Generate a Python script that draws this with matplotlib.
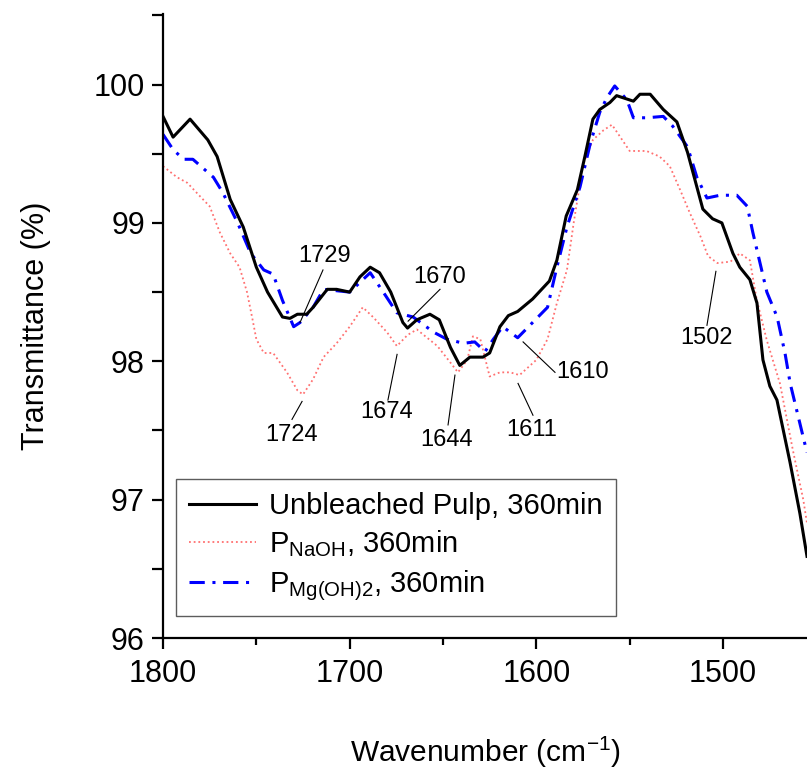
import matplotlib
matplotlib.use("Agg")
import matplotlib.pyplot as plt
from matplotlib.ticker import MultipleLocator

plt.rcParams['font.family'] = ['Liberation Sans', 'DejaVu Sans']
plt.rcParams['mathtext.default'] = 'regular'

# ---- data ----
wn_unbleached = [1800, 1794.6, 1785.5, 1776, 1771, 1764, 1757, 1750, 1744, 1736, 1732, 1728, 1723,
                 1719.6, 1712, 1707, 1700, 1694.5, 1689, 1684, 1678, 1671.5, 1669, 1664, 1657, 1652,
                 1646, 1641, 1635.6, 1628.6, 1625, 1619.5, 1615, 1610, 1602, 1593, 1589, 1584, 1578,
                 1574, 1569.7, 1566, 1560.6, 1557, 1548, 1544.5, 1539, 1532, 1524.7, 1519, 1514,
                 1510.8, 1505.6, 1500.6, 1494.7, 1491, 1485.6, 1481.8, 1478.6, 1474.9, 1471.1,
                 1464.1, 1458.8, 1455]
t_unbleached = [99.77, 99.62, 99.75, 99.60, 99.48, 99.17, 98.97, 98.68, 98.50, 98.32, 98.31, 98.34, 98.34,
                98.39, 98.52, 98.52, 98.50, 98.61, 98.68, 98.64, 98.50, 98.28, 98.24, 98.30, 98.34, 98.30,
                98.10, 97.97, 98.03, 98.03, 98.06, 98.25, 98.33, 98.36, 98.45, 98.58, 98.73, 99.05, 99.24,
                99.48, 99.75, 99.82, 99.87, 99.92, 99.88, 99.93, 99.93, 99.82, 99.73, 99.51, 99.26,
                99.10, 99.03, 99.00, 98.78, 98.68, 98.59, 98.42, 98.01, 97.82, 97.72,
                97.27, 96.90, 96.59]

wn_naoh = [1800, 1792.5, 1787, 1780, 1775, 1769.5, 1764, 1759, 1755, 1752, 1750, 1746, 1741, 1733.6,
           1728, 1725, 1719.6, 1714, 1707, 1700, 1693, 1687.5, 1680, 1674.7, 1669, 1664, 1653, 1646,
           1642, 1637, 1634, 1630, 1625, 1619.5, 1614, 1609, 1600, 1594, 1589, 1583.6, 1580, 1575,
           1569.7, 1564, 1559.5, 1555, 1550, 1541, 1534, 1528.5, 1523, 1517.7, 1512, 1508, 1503,
           1496, 1491, 1485.6, 1482, 1476.5, 1469.5, 1462.6, 1457, 1455]
t_naoh = [99.41, 99.33, 99.29, 99.19, 99.12, 98.93, 98.78, 98.68, 98.50, 98.30, 98.16, 98.06, 98.06, 97.92,
          97.79, 97.76, 97.87, 98.03, 98.13, 98.25, 98.39, 98.32, 98.21, 98.11, 98.19, 98.23, 98.11, 97.99,
          97.92, 98.01, 98.18, 98.16, 97.89, 97.92, 97.92, 97.90, 98.01, 98.16, 98.42, 98.66, 99.00, 99.42,
          99.60, 99.67, 99.71, 99.62, 99.52, 99.52, 99.48, 99.41, 99.24, 99.07, 98.90, 98.76, 98.71,
          98.72, 98.78, 98.73, 98.45, 98.15, 97.84, 97.36, 97.00, 96.83]

wn_mgoh2 = [1800, 1794.6, 1789, 1784, 1773, 1768, 1760, 1753, 1746, 1741, 1736, 1730, 1726.6, 1719.6,
            1714, 1700, 1694.5, 1689, 1682, 1674.7, 1666, 1655, 1648, 1639, 1633, 1627.5, 1623, 1618,
            1610, 1602, 1594, 1589, 1583.6, 1576.6, 1571, 1566, 1562, 1558, 1551.5, 1548, 1540.8,
            1532, 1527, 1519, 1514, 1508.6, 1501.6, 1492.6, 1487, 1484, 1476.5, 1471, 1466.8, 1464,
            1457, 1455]
t_mgoh2 = [99.64, 99.53, 99.46, 99.46, 99.33, 99.22, 99.00, 98.78, 98.66, 98.63, 98.44, 98.25, 98.28, 98.39,
           98.52, 98.50, 98.57, 98.64, 98.50, 98.35, 98.32, 98.21, 98.16, 98.13, 98.14, 98.07, 98.16, 98.25,
           98.17, 98.28, 98.39, 98.68, 98.97, 99.26, 99.58, 99.80, 99.91, 99.99, 99.89, 99.76, 99.76,
           99.77, 99.70, 99.55, 99.33, 99.18, 99.20, 99.20, 99.12, 98.93, 98.50, 98.32, 98.06, 97.84,
           97.45, 97.34]

series_labels = ['Unbleached Pulp, 360min',
                 'P$_{NaOH}$, 360min',
                 'P$_{Mg(OH)2}$, 360min']

# peak annotations: label, text position (wn, T), connector start, connector end
ann_labels = ['1729', '1670', '1724', '1674', '1644', '1611', '1610', '1502']
ann_text_xy = [(1713.2, 98.76), (1651.6, 98.61), (1730.9, 97.47), (1680.0, 97.63),
               (1647.9, 97.43), (1602.3, 97.50), (1575.5, 97.92), (1508.6, 98.17)]
ann_line_from = [(1714.3, 98.66), (1651.6, 98.52), (1730.9, 97.58), (1679.5, 97.72),
                 (1647.3, 97.54), (1601.8, 97.61), (1590.0, 97.92), (1508.6, 98.26)]
ann_line_to = [(1726.6, 98.28), (1668.7, 98.29), (1725.5, 97.71), (1674.6, 98.05),
               (1643.6, 97.90), (1609.8, 97.84), (1607.1, 98.14), (1503.8, 98.65)]

x_ticks = [1800, 1700, 1600, 1500]
y_ticks = [96, 97, 98, 99, 100]

# ---- figure ----
W, H = 807, 774
fig = plt.figure(figsize=(W / 100, H / 100), dpi=100)
ax = fig.add_axes([163 / W, (H - 638) / H, (W - 163) / W, (638 - 14) / H])

ax.plot(wn_unbleached, t_unbleached, color='black', lw=2.2, label=series_labels[0], zorder=3)
ax.plot(wn_naoh, t_naoh, color='#ff7070', lw=1.3, linestyle=(0, (1, 1.6)), label=series_labels[1], zorder=2)
ax.plot(wn_mgoh2, t_mgoh2, color='#0000ff', lw=2.2, linestyle=(0, (5, 2.5, 1, 2.5)),
        label=series_labels[2], zorder=2)

for lab, txy, p0, p1 in zip(ann_labels, ann_text_xy, ann_line_from, ann_line_to):
    ax.plot([p0[0], p1[0]], [p0[1], p1[1]], color='black', lw=0.8, zorder=4)
    ax.text(txy[0], txy[1], lab, ha='center', va='center', fontsize=17, zorder=5)

ax.set_xlim(1800, 1455)
ax.set_ylim(96, 100.51)
ax.set_xticks(x_ticks)
ax.set_yticks(y_ticks)
ax.xaxis.set_minor_locator(MultipleLocator(50))
ax.yaxis.set_minor_locator(MultipleLocator(0.5))

for s in ['top', 'right']:
    ax.spines[s].set_visible(False)
for s in ['left', 'bottom']:
    ax.spines[s].set_linewidth(1.6)

ax.tick_params(axis='both', which='major', direction='out', length=8, width=1.6, labelsize=22)
ax.tick_params(axis='x', which='minor', direction='out', length=5, width=1.6)
ax.tick_params(axis='y', which='minor', direction='out', length=8, width=1.6)
ax.tick_params(axis='x', which='major', pad=7)
ax.tick_params(axis='y', which='major', pad=5)

ax.set_xlabel('Wavenumber (cm$^{\\mathregular{-1}}$)', fontsize=21.5, labelpad=33)
ax.set_ylabel('Transmittance (%)', fontsize=22, labelpad=31)

leg = ax.legend(loc='lower left', bbox_to_anchor=(0.0202, 0.0353), borderaxespad=0,
                fontsize=21, frameon=True, fancybox=False, handlelength=2.3,
                handletextpad=0.45, labelspacing=0.3, borderpad=0.45)
leg.get_frame().set_edgecolor('#333333')
leg.get_frame().set_linewidth(1.0)

fig.savefig('out.png', dpi=100)
